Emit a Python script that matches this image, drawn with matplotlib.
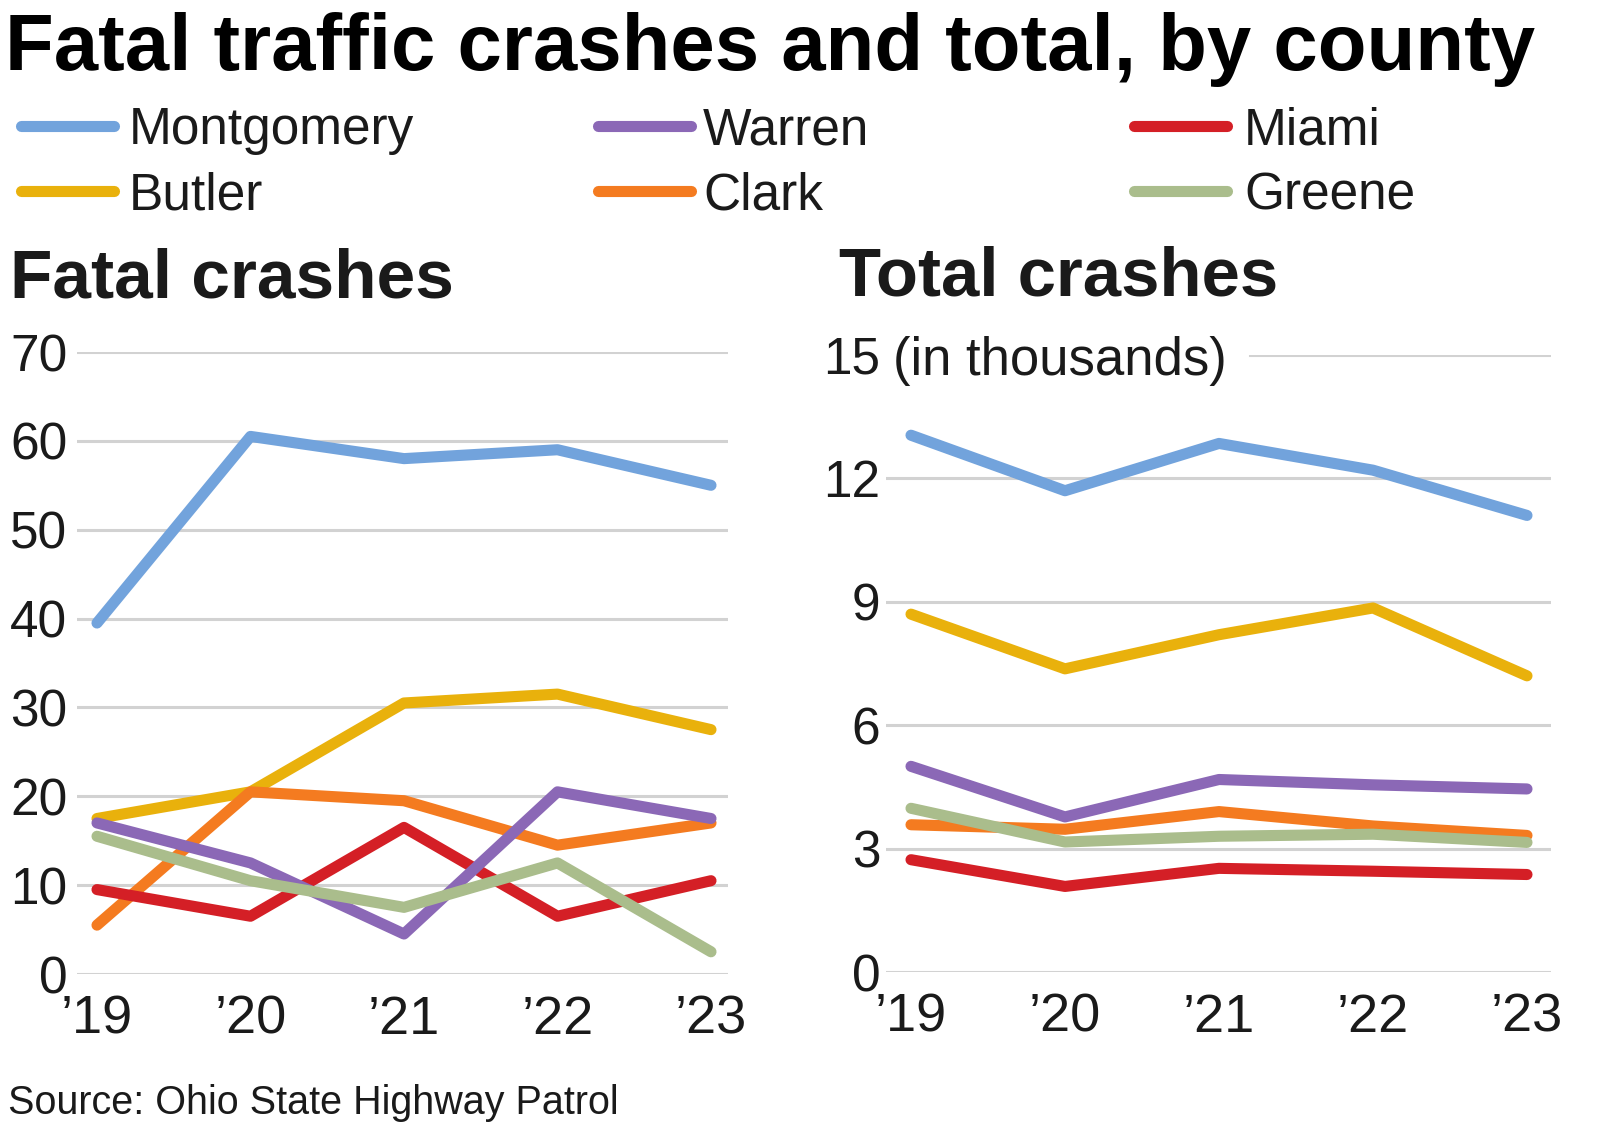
import matplotlib
matplotlib.use("Agg")
import matplotlib.pyplot as plt
from matplotlib import font_manager
from matplotlib.lines import Line2D
import matplotlib.transforms as mtrans

# ---------------- data ----------------
years = ["\u201919", "\u201920", "\u201921", "\u201922", "\u201923"]
counties = ["Montgomery", "Warren", "Miami", "Butler", "Clark", "Greene"]

fatal_montgomery = [39.5, 60.5, 58, 59, 55]
fatal_warren = [17, 12.5, 4.5, 20.5, 17.5]
fatal_miami = [9.5, 6.5, 16.5, 6.5, 10.5]
fatal_butler = [17.5, 20.5, 30.5, 31.5, 27.5]
fatal_clark = [5.5, 20.5, 19.5, 14.5, 17]
fatal_greene = [15.5, 10.5, 7.5, 12.5, 2.5]

total_montgomery = [13.05, 11.7, 12.85, 12.2, 11.1]
total_warren = [5.0, 3.77, 4.68, 4.55, 4.45]
total_miami = [2.73, 2.08, 2.52, 2.45, 2.37]
total_butler = [8.7, 7.37, 8.2, 8.85, 7.2]
total_clark = [3.58, 3.47, 3.9, 3.55, 3.32]
total_greene = [3.98, 3.16, 3.3, 3.35, 3.15]

fatal_ticks = [0, 10, 20, 30, 40, 50, 60, 70]
total_ticks = [0, 3, 6, 9, 12, 15]

colors = {
    "Montgomery": "#72a3dc",
    "Warren": "#8b68b6",
    "Miami": "#d41f26",
    "Butler": "#e9b10c",
    "Clark": "#f47b20",
    "Greene": "#aabd8c",
}
zorders = {"Montgomery": 3, "Butler": 3.1, "Clark": 3.2, "Miami": 3.3, "Warren": 3.4, "Greene": 3.5}

fatal = {"Montgomery": fatal_montgomery, "Warren": fatal_warren, "Miami": fatal_miami,
         "Butler": fatal_butler, "Clark": fatal_clark, "Greene": fatal_greene}
total = {"Montgomery": total_montgomery, "Warren": total_warren, "Miami": total_miami,
         "Butler": total_butler, "Clark": total_clark, "Greene": total_greene}

# ---------------- fonts ----------------
names = {f.name for f in font_manager.fontManager.ttflist}
REG = "Liberation Sans" if "Liberation Sans" in names else "DejaVu Sans"
plt.rcParams["font.family"] = [REG, "DejaVu Sans"]

W, H = 1600, 1129
fig = plt.figure(figsize=(W / 100, H / 100), dpi=100)
fig.patch.set_facecolor("white")


def fx(px):
    return px / W


def fy(py):
    return 1 - py / H


GRID = "#d2d2d2"
TXT = "#1a1a1a"
LW = 8


def make_axes(left_px, right_px, top_px, bottom_px):
    ax = fig.add_axes([fx(left_px), fy(bottom_px), (right_px - left_px) / W, (bottom_px - top_px) / H])
    for s in ax.spines.values():
        s.set_visible(False)
    ax.set_facecolor("none")
    return ax


# left axes: grid 77..728 px, x data 97..711, y 0 at 974, 70 at 352
axL = make_axes(77, 728, 352, 974)
ppu = (711 - 97) / 4
axL.set_xlim(-20 / ppu, 4 + 17 / ppu)
axL.set_ylim(0, 70)
for t in fatal_ticks:
    axL.axhline(t, color=GRID, lw=2.2, zorder=1)
axL.set_yticks(fatal_ticks)
axL.set_yticklabels([str(t) for t in fatal_ticks])
axL.tick_params(axis="y", length=0, pad=7, labelsize=37, labelcolor=TXT)
axL.set_xticks(range(5))
axL.set_xticklabels(years)
axL.tick_params(axis="x", length=0, pad=15, labelsize=39, labelcolor=TXT)
for c in counties:
    axL.plot(range(5), fatal[c], color=colors[c], lw=LW, solid_capstyle="round",
             solid_joinstyle="round", zorder=zorders[c], clip_on=False)

# right axes: grid 886..1551, x data 911..1527, y 0 at 972, 15 at 355
axR = make_axes(886, 1551, 355, 972)
ppu = (1527 - 911) / 4
axR.set_xlim(-25 / ppu, 4 + 24 / ppu)
axR.set_ylim(0, 15)
for t in total_ticks[:-1]:
    axR.axhline(t, color=GRID, lw=2.2, zorder=1)
axR.axhline(15, xmin=(1250 - 886) / (1551 - 886), xmax=1, color=GRID, lw=2.2, zorder=1)
axR.set_yticks(total_ticks)
axR.set_yticklabels([str(t) for t in total_ticks])
axR.tick_params(axis="y", length=0, pad=4, labelsize=37, labelcolor=TXT)
axR.set_xticks(range(5))
axR.set_xticklabels(years)
axR.tick_params(axis="x", length=0, pad=15, labelsize=39, labelcolor=TXT)
for c in counties:
    axR.plot(range(5), total[c], color=colors[c], lw=LW, solid_capstyle="round",
             solid_joinstyle="round", zorder=zorders[c], clip_on=False)
tr = mtrans.blended_transform_factory(fig.transFigure, axR.transData)
axR.text(fx(893), 15, "(in thousands)", transform=tr, fontsize=38, color=TXT,
         ha="left", va="center_baseline")

# ---------------- texts ----------------
renderer = fig.canvas.get_renderer()


def fit_text(x_px, y_px, s, target_w, size, **kw):
    t = fig.text(fx(x_px), fy(y_px), s, fontsize=size, **kw)
    w = t.get_window_extent(renderer=renderer).width
    t.set_fontsize(size * target_w / w)
    return t


fit_text(5, 70, "Fatal traffic crashes and total, by county", 1529, 60,
         fontweight="bold", color="black", ha="left", va="baseline")
fit_text(10, 298, "Fatal crashes", 444, 50, fontweight="bold", color=TXT,
         ha="left", va="baseline")
fit_text(839, 296, "Total crashes", 439, 50, fontweight="bold", color=TXT,
         ha="left", va="baseline")
fit_text(8, 1114, "Source: Ohio State Highway Patrol", 611, 28, color=TXT,
         ha="left", va="baseline")

# ---------------- legend (manual) ----------------
leg_cols = [(15, 120, 129), (592, 697, 703), (1128, 1233, 1244)]
leg_rows = [(126, 144), (191, 210)]
for i, c in enumerate(counties):
    r, col = divmod(i, 3)
    x0, x1, xt = leg_cols[col]
    yl, yb = leg_rows[r]
    fig.add_artist(Line2D([fx(x0 + 6), fx(x1 - 6)], [fy(yl), fy(yl)], transform=fig.transFigure,
                          color=colors[c], lw=LW, solid_capstyle="round"))
    fig.text(fx(xt), fy(yb), c, fontsize=37, color=TXT, ha="left", va="baseline")

fig.savefig("out.png", dpi=100, facecolor="white")
